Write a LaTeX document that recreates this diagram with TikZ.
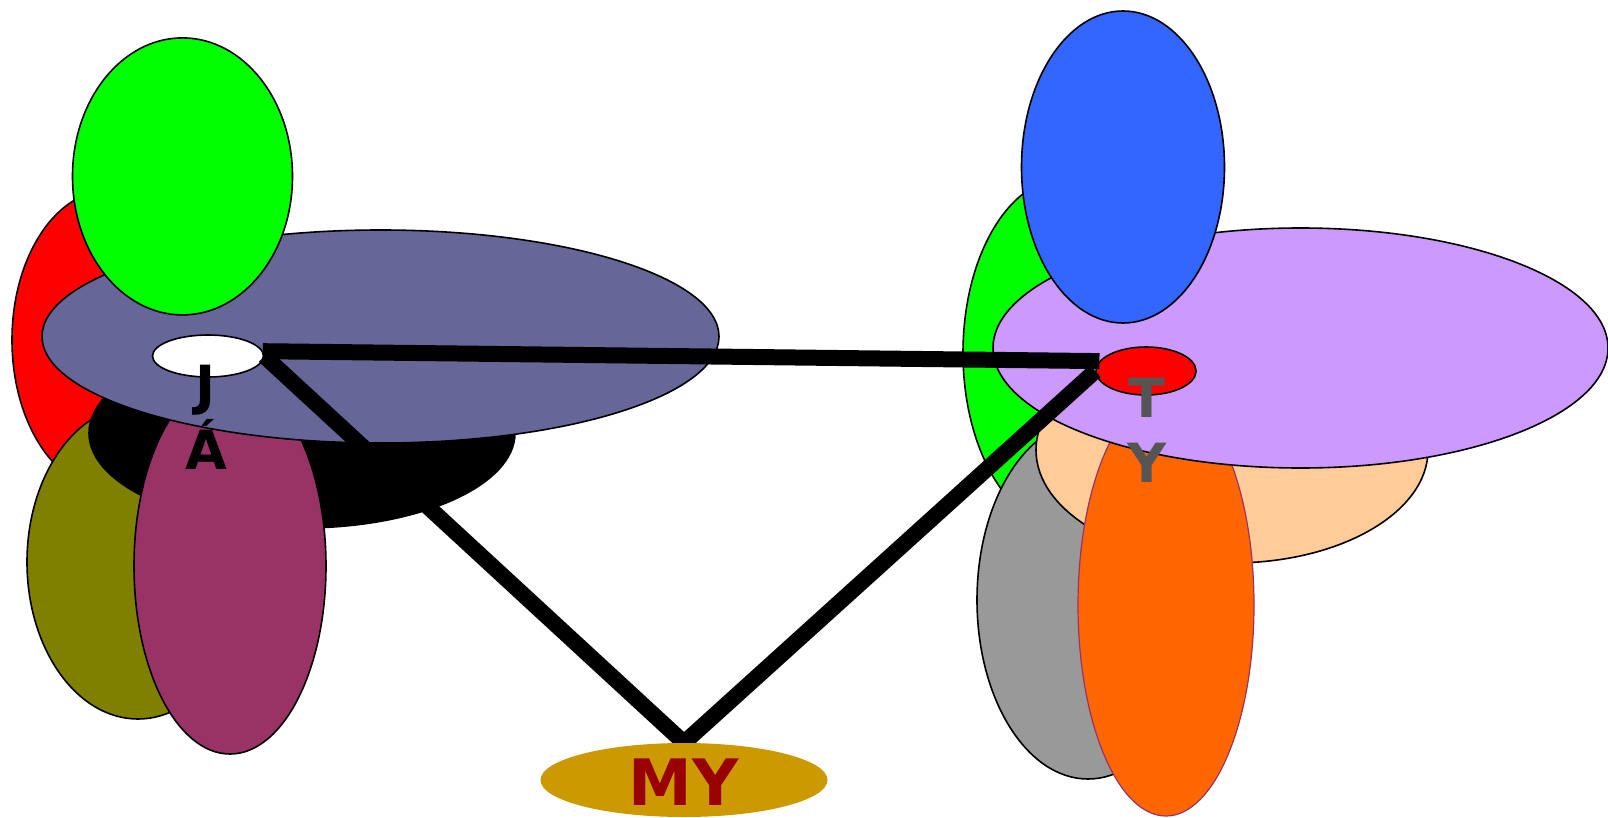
\documentclass[tikz,border=0pt]{standalone}
\usepackage{fontspec}
\setmainfont{DejaVu Sans}
\usetikzlibrary{shapes.geometric}
\definecolor{cpurple}{HTML}{666699}
\definecolor{colive}{HTML}{808000}
\definecolor{cmaroon}{HTML}{993366}
\definecolor{clav}{HTML}{CC99FF}
\definecolor{cpeach}{HTML}{FFCC99}
\definecolor{cgray}{HTML}{999999}
\definecolor{corange}{HTML}{FF6600}
\definecolor{cblue}{HTML}{3366FF}
\definecolor{cgold}{HTML}{CC9900}
\definecolor{cdred}{HTML}{990000}
\definecolor{ctext}{HTML}{555555}
\pgfdeclarelayer{top}
\pgfsetlayers{main,top}
\tikzset{
  blob/.style 2 args={ellipse, draw=black, line width=1.6pt, inner sep=0pt,
    minimum width=#1, minimum height=#2},
  edge/.style={line width=16pt, line cap=butt, draw=black},
  lab/.style={font=\fontsize{54}{65}\selectfont\bfseries, align=center, inner sep=0pt},
}
\begin{document}
\begin{tikzpicture}[x=1pt,y=-1pt]
\useasboundingbox (0,0) rectangle (1608,818);
% left cluster
\node[blob={196pt}{300pt}, fill=red] (lred) at (110,340) {};
\node[blob={222pt}{314pt}, fill=colive] (lolive) at (138,562) {};
\node[blob={426pt}{190pt}, fill=black] (lblack) at (302,433) {};
\node[blob={192pt}{376pt}, fill=cmaroon] (lmaroon) at (230,566) {};
\node[blob={677pt}{213pt}, fill=cpurple] (lpurple) at (380.5,336.5) {};
\node[blob={220pt}{277pt}, fill=green] (lgreen) at (182.5,176.4) {};
\node[blob={111pt}{42pt}, fill=white] (w) at (208,356) {};
% right cluster
\node[blob={206pt}{350pt}, fill=green] (rgreen) at (1066,353) {};
\node[blob={222pt}{358pt}, fill=cgray] (rgray) at (1088,600) {};
\node[blob={392pt}{226pt}, fill=cpeach] (rpeach) at (1232,450) {};
\node[blob={176pt}{422pt}, fill=corange, draw=cmaroon, line width=1.2pt] (rorange) at (1166,605) {};
\node[blob={615pt}{240pt}, fill=clav] (rlav) at (1300.5,348) {};
\node[blob={203pt}{312pt}, fill=cblue] (rblue) at (1123,167) {};
\node[blob={100pt}{48pt}, fill=red] (rs) at (1146,371) {};
\begin{pgfonlayer}{top}
\node[ellipse, fill=cgold, inner sep=0pt, minimum width=287pt, minimum height=74pt,
  font=\fontsize{64}{77}\selectfont\bfseries, text=cdred, text height=50pt, text depth=0pt] (my) at (684,780) {MY};
\node[lab, text=black] (jlab) at (206,417) {J\\Á};
\node[lab, text=ctext] (tlab) at (1147,430) {T\\Y};
\end{pgfonlayer}
% connectors
\draw[edge] (w.5) -- (rs.168);
\draw[edge] (w.east) -- (my.north);
\draw[edge] (rs.west) -- (my.north);
\end{tikzpicture}
\end{document}
